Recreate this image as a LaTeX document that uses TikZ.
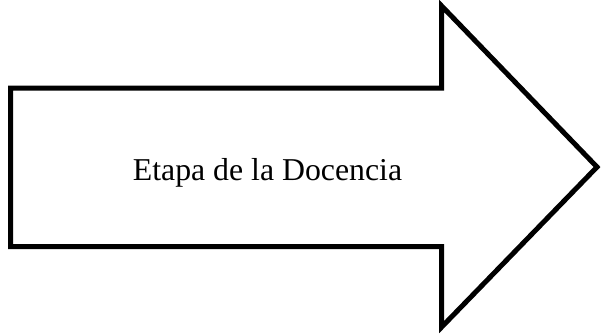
\documentclass[tikz,border=0pt]{standalone}
\usepackage{fontspec}
\setmainfont{Liberation Serif}
\begin{document}
\begin{tikzpicture}[x=0.5pt,y=-0.5pt]
        \tikzstyle{outline} = [draw=black, line width=2.5pt, line join=miter, fill=white]
        \tikzstyle{label} = [font=\fontsize{15.9}{18}\selectfont, inner sep=0pt, anchor=base]
        \useasboundingbox (0,0) rectangle (601,333);
        \coordinate (tailtop) at (10.7,88);
        \coordinate (neckup) at (441.7,88);
        \coordinate (barbup) at (441.7,6);
        \coordinate (tip) at (597,167);
        \coordinate (barbdown) at (441.7,327);
        \coordinate (neckdown) at (441.7,246.7);
        \coordinate (tailbottom) at (10.7,246.7);

        \draw [outline] (tailtop) -- (neckup) -- (barbup) -- (tip) -- (barbdown) -- (neckdown) -- (tailbottom) -- cycle;
        \node (stage) [label] at (267.5,180) {Etapa de la Docencia};

    \end{tikzpicture}
\end{document}
